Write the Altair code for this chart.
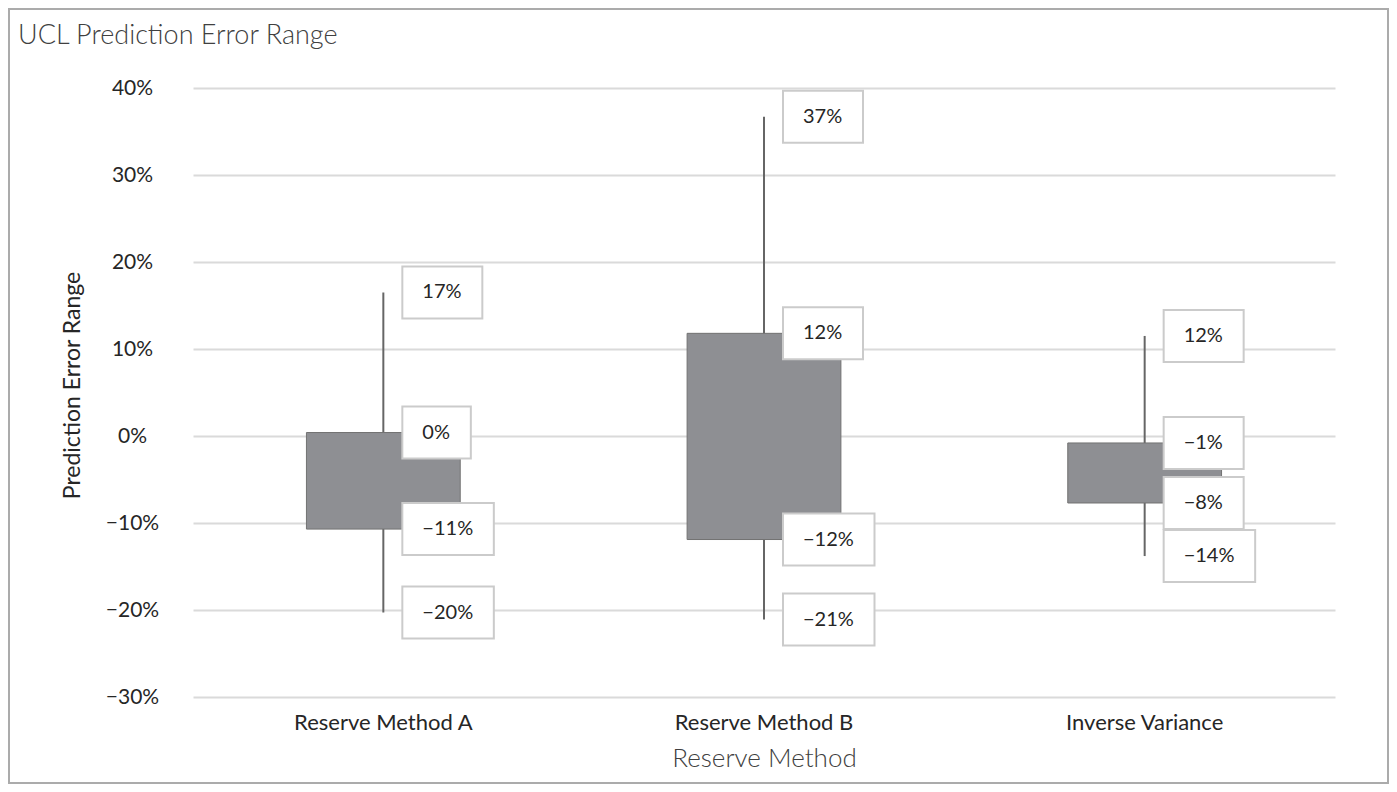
import altair as alt
import pandas as pd

# ---- data ----
categories = ["Reserve Method A", "Reserve Method B", "Inverse Variance"]
high = [0.165, 0.367, 0.115]
box_top = [0.004, 0.118, -0.008]
box_bottom = [-0.107, -0.119, -0.077]
low = [-0.203, -0.211, -0.138]
y_ticks = [-0.3, -0.2, -0.1, 0.0, 0.1, 0.2, 0.3, 0.4]

FONT = "Lato"
W, H = 1142, 609

df = pd.DataFrame({"cat": categories, "high": high, "top": box_top,
                   "bottom": box_bottom, "low": low})
lab = df.melt(id_vars="cat", value_vars=["high", "top", "bottom", "low"],
              var_name="kind", value_name="v")

x_enc = alt.X("cat:N", sort=categories,
              scale=alt.Scale(paddingInner=0, paddingOuter=0),
              axis=alt.Axis(title="Reserve Method", labelAngle=0, ticks=False,
                            domain=False, labelPadding=15, labelFontSize=22,
                            labelFont=FONT, labelColor="#262626",
                            titleFont=FONT, titleFontSize=26, titleFontWeight=300,
                            titleColor="#404040", titleX=W / 2, titleY=61,
                            titleBaseline="middle", titleAlign="center"))
y_scale = alt.Scale(domain=[-0.3, 0.4], nice=False, zero=False)

whisker = alt.Chart(df).mark_rule(color="#666666", strokeWidth=2).encode(
    x=x_enc,
    y=alt.Y("low:Q", scale=y_scale,
            axis=alt.Axis(title="Prediction Error Range", values=y_ticks,
                          format=".0%", ticks=False, domain=False,
                          labelAlign="center", labelPadding=61,
                          labelFontSize=21, labelFont=FONT, labelColor="#262626",
                          gridColor="#dadada", gridWidth=2,
                          titleFont=FONT, titleFontSize=23, titleFontWeight="normal",
                          titleColor="#262626", titleX=-121, titleY=297,
                          titleBaseline="middle", titleAlign="center", titleAngle=-90)),
    y2="high:Q",
)

box = alt.Chart(df).mark_bar(width={"band": 0.404}, color="#8e8f93",
                             stroke="#727272", strokeWidth=1).encode(
    x=alt.X("cat:N", sort=categories),
    y=alt.Y("top:Q", scale=y_scale),
    y2="bottom:Q",
)

base_lab = alt.Chart(lab).transform_calculate(
    label="format(datum.v, '.0%')"
).transform_calculate(
    w="40 + 11.5 * (length(datum.label) - 1) + 17"
).transform_calculate(
    shp="'M19,-26H' + (19 + datum.w) + 'V26H19Z'"
)

lab_box = base_lab.mark_point(size=4, filled=True, fill="white", stroke="#cbcbcb",
                              strokeWidth=2, opacity=1).encode(
    x=alt.X("cat:N", sort=categories),
    y=alt.Y("v:Q", scale=y_scale),
    shape=alt.Shape("shp:N", scale=None),
)

lab_text = base_lab.mark_text(align="left", baseline="middle", dx=39,
                              fontSize=20, font=FONT, color="#262626").encode(
    x=alt.X("cat:N", sort=categories),
    y=alt.Y("v:Q", scale=y_scale),
    text="label:N",
)

frame = alt.Chart(alt.Data(values=[{"a": 1}])).mark_rect(
    fillOpacity=0, stroke="#ababab", strokeWidth=2).encode(
    x=alt.value(-184), x2=alt.value(W + 53),
    y=alt.value(-79), y2=alt.value(H + 86),
)

chart = alt.layer(frame, whisker, box, lab_box, lab_text).properties(
    width=W, height=H,
    title=alt.TitleParams("UCL Prediction Error Range", anchor="start",
                          frame="group", dx=-175, offset=0, dy=42, fontSize=27,
                          font=FONT, fontWeight=300, color="#404040"),
    autosize=alt.AutoSizeParams(type="none"),
    padding={"left": 185, "top": 80, "right": 54, "bottom": 87},
).configure_view(stroke=None).configure_axisX(grid=False)

chart.save("out.html", embed_options={"renderer": "svg", "actions": False})
